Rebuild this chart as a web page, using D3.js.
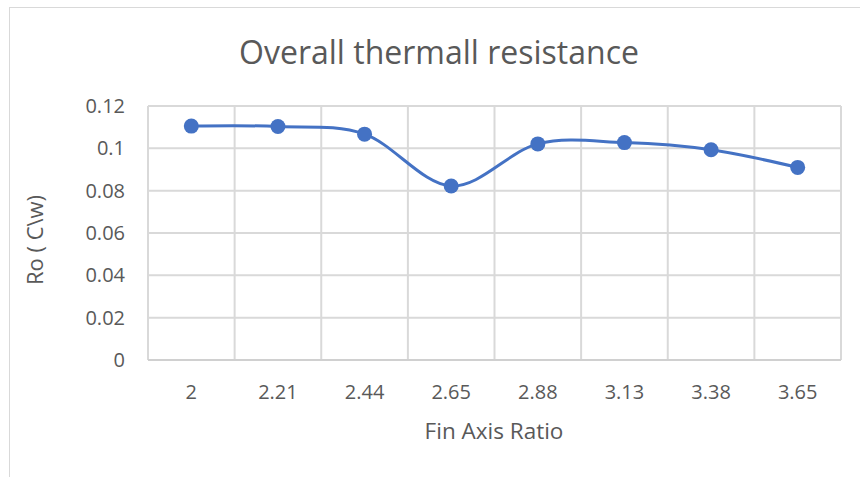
<!DOCTYPE html>
<html>
<head>
<meta charset="utf-8">
<script src="https://cdn.jsdelivr.net/npm/d3@7"></script>
<style>
  html, body { margin: 0; padding: 0; background: #fff; }
  svg { display: block; font-family: "Open Sans", "Noto Sans", sans-serif; }
</style>
</head>
<body>
<svg id="chart" width="860" height="477"></svg>
<script>
// Fin axis ratio categories and overall thermal resistance values
const categories = ["2", "2.21", "2.44", "2.65", "2.88", "3.13", "3.38", "3.65"];
const resistance = [0.1105, 0.1103, 0.1067, 0.0822, 0.1021, 0.1027, 0.0993, 0.0910];
const yTicks = [0, 0.02, 0.04, 0.06, 0.08, 0.1, 0.12];

const title = "Overall thermall resistance";
const xTitle = "Fin Axis Ratio";
const yTitle = "Ro ( C\\w)";

const svg = d3.select("#chart");
const plot = { left: 148, right: 841, top: 106, bottom: 360 };

// chart frame
svg.append("rect")
  .attr("x", 9.5).attr("y", 7.5)
  .attr("width", 900).attr("height", 600)
  .attr("fill", "#fff").attr("stroke", "#d9d9d9").attr("stroke-width", 1);

const x = d3.scaleBand().domain(categories).range([plot.left, plot.right]).padding(0);
const y = d3.scaleLinear().domain([0, 0.12]).range([plot.bottom, plot.top]);

const grid = "#d9d9d9";
const textColor = "#595959";

// horizontal gridlines
svg.append("g")
  .selectAll("line").data(yTicks.filter(d => d > 0)).join("line")
  .attr("x1", plot.left).attr("x2", plot.right)
  .attr("y1", d => y(d)).attr("y2", d => y(d))
  .attr("stroke", grid).attr("stroke-width", 2);

// vertical gridlines at category boundaries
const bounds = categories.map(c => x(c)).concat([plot.right]);
svg.append("g")
  .selectAll("line").data(bounds).join("line")
  .attr("x1", d => d).attr("x2", d => d)
  .attr("y1", plot.top).attr("y2", plot.bottom)
  .attr("stroke", grid).attr("stroke-width", 2);

// category axis line
svg.append("line")
  .attr("x1", plot.left).attr("x2", plot.right)
  .attr("y1", y(0)).attr("y2", y(0))
  .attr("stroke", "#d0d0d0").attr("stroke-width", 2);

// y tick labels
const yAxis = d3.axisLeft(y).tickValues(yTicks).tickSize(0).tickPadding(0)
  .tickFormat(d => d3.format("")(+d.toFixed(2)));
const gy = svg.append("g").attr("transform", `translate(${plot.left - 23},0)`).call(yAxis);
gy.select(".domain").remove();
gy.selectAll("text").attr("fill", textColor).attr("font-size", 20)
  .attr("font-family", "'Open Sans', sans-serif");

// x tick labels
const xAxis = d3.axisBottom(x).tickSize(0).tickPadding(0);
const gx = svg.append("g").attr("transform", `translate(0,${plot.bottom})`).call(xAxis);
gx.select(".domain").remove();
gx.selectAll("text").attr("fill", textColor).attr("font-size", 20)
  .attr("font-family", "'Open Sans', sans-serif")
  .attr("y", 39).attr("dy", null);

// smoothed series line
const line = d3.line()
  .x((d, i) => x(categories[i]) + x.bandwidth() / 2)
  .y(d => y(d))
  .curve(d3.curveCardinal.tension(0));

svg.append("path")
  .datum(resistance)
  .attr("d", line)
  .attr("fill", "none")
  .attr("stroke", "#4472c4")
  .attr("stroke-width", 3)
  .attr("stroke-linecap", "round");

svg.append("g")
  .selectAll("circle").data(resistance).join("circle")
  .attr("cx", (d, i) => x(categories[i]) + x.bandwidth() / 2)
  .attr("cy", d => y(d))
  .attr("r", 7.5)
  .attr("fill", "#4472c4");

// titles
svg.append("text")
  .attr("x", 439).attr("y", 64)
  .attr("text-anchor", "middle")
  .attr("font-size", 32)
  .attr("fill", textColor)
  .text(title);

svg.append("text")
  .attr("x", 494).attr("y", 439)
  .attr("text-anchor", "middle")
  .attr("font-size", 22.5)
  .attr("fill", textColor)
  .text(xTitle);

svg.append("text")
  .attr("transform", "translate(43,240) rotate(-90)")
  .attr("text-anchor", "middle")
  .attr("font-size", 22)
  .attr("fill", textColor)
  .text(yTitle);
</script>
</body>
</html>
